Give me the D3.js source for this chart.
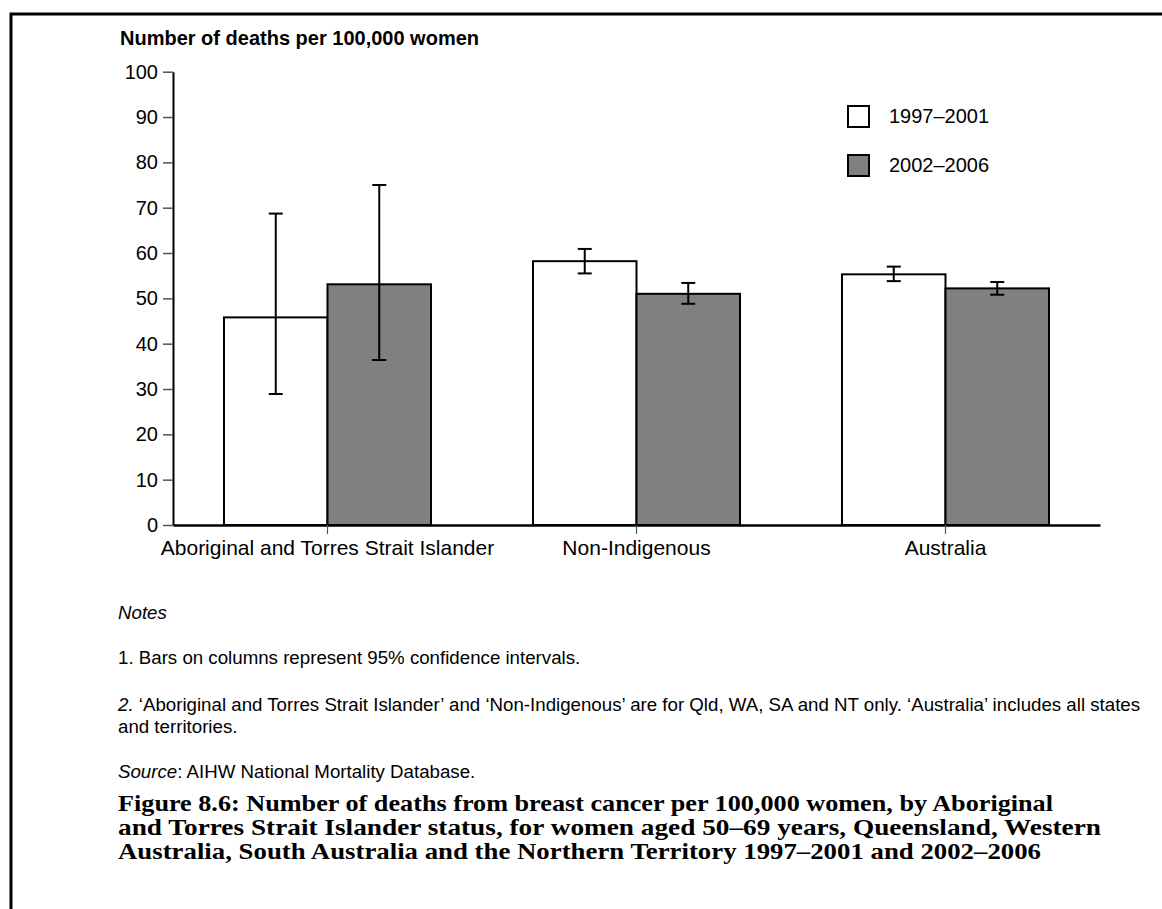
<!DOCTYPE html>
<html><head><meta charset="utf-8">
<script src="https://cdn.jsdelivr.net/npm/d3@7"></script>
<style>body{margin:0;background:#fff}svg{display:block}</style>
</head><body><svg id="c" width="1162" height="909"></svg>
<script>
const categories = ["Aboriginal and Torres Strait Islander", "Non-Indigenous", "Australia"];
const periods = ["1997–2001", "2002–2006"];
const values1997 = [45.8, 58.2, 55.3];
const values2002 = [53.1, 51.0, 52.2];
const lower1997 = [28.9, 55.5, 53.8];
const upper1997 = [68.7, 60.9, 57.0];
const lower2002 = [36.4, 48.8, 50.8];
const upper2002 = [75.0, 53.4, 53.6];
const yTicks = [0, 10, 20, 30, 40, 50, 60, 70, 80, 90, 100];
const yTitle = "Number of deaths per 100,000 women";
const noteLines = [
  "1. Bars on columns represent 95% confidence intervals.",
  "‘Aboriginal and Torres Strait Islander’ and ‘Non-Indigenous’ are for Qld, WA, SA and NT only. ‘Australia’ includes all states",
  "and territories."
];
const captionLines = [
  "Figure 8.6: Number of deaths from breast cancer per 100,000 women, by Aboriginal",
  "and Torres Strait Islander status, for women aged 50–69 years, Queensland, Western",
  "Australia, South Australia and the Northern Territory 1997–2001 and 2002–2006"
];

const fills = ["#ffffff", "#808080"];
const series = [
  {period: periods[0], values: values1997, lo: lower1997, hi: upper1997, fill: fills[0]},
  {period: periods[1], values: values2002, lo: lower2002, hi: upper2002, fill: fills[1]}
];

const svg = d3.select("#c");
const SANS = "'Liberation Sans', Arial, sans-serif";

// border
svg.append("path").attr("d", "M11,909V14H1162").attr("fill", "none")
  .attr("stroke", "#000").attr("stroke-width", 3);

const y = d3.scaleLinear().domain([0, 100]).range([525, 71.7]);
const x0 = d3.scaleBand().domain(categories).range([173, 1100]).paddingInner(0.33).paddingOuter(0.165);
const x1 = d3.scaleBand().domain(periods).range([0, x0.bandwidth()]).padding(0);

// bars
const groups = svg.append("g").selectAll("g").data(categories).join("g")
  .attr("transform", d => `translate(${x0(d)},0)`);
groups.each(function(cat, i) {
  const g = d3.select(this);
  series.forEach(s => {
    g.append("rect")
      .attr("x", x1(s.period)).attr("width", x1.bandwidth())
      .attr("y", y(s.values[i])).attr("height", y(0) - y(s.values[i]))
      .attr("fill", s.fill).attr("stroke", "#000").attr("stroke-width", 2);
  });
});

// error bars
groups.each(function(cat, i) {
  const g = d3.select(this);
  series.forEach(s => {
    const cx = x1(s.period) + x1.bandwidth() / 2;
    const eg = g.append("g").attr("stroke", "#000").attr("stroke-width", 2);
    eg.append("line").attr("x1", cx).attr("x2", cx).attr("y1", y(s.lo[i])).attr("y2", y(s.hi[i]));
    eg.append("line").attr("x1", cx - 7).attr("x2", cx + 7).attr("y1", y(s.lo[i])).attr("y2", y(s.lo[i]));
    eg.append("line").attr("x1", cx - 7).attr("x2", cx + 7).attr("y1", y(s.hi[i])).attr("y2", y(s.hi[i]));
  });
});

// y axis
const ya = svg.append("g").attr("transform", "translate(173,0)")
  .call(d3.axisLeft(y).tickValues(yTicks).tickSize(10).tickSizeOuter(0).tickPadding(5));
ya.select(".domain").attr("stroke", "#000").attr("stroke-width", 2);
ya.selectAll(".tick line").attr("stroke", "#555").attr("stroke-width", 1.5);
ya.selectAll(".tick text").attr("font-family", SANS).attr("font-size", 20).attr("fill", "#000");

// x axis
const xa = svg.append("g").attr("transform", "translate(0,525)")
  .call(d3.axisBottom(x0).tickSize(9).tickSizeOuter(0).tickPadding(6));
xa.select(".domain").attr("stroke", "#000").attr("stroke-width", 2.5);
xa.selectAll(".tick line").attr("stroke", "#555").attr("stroke-width", 1.2);
xa.selectAll(".tick text").attr("font-family", SANS).attr("font-size", 21).attr("fill", "#000");

// y title
svg.append("text").attr("x", 120).attr("y", 45).attr("font-family", SANS)
  .attr("font-size", 20).attr("font-weight", "bold").text(yTitle);

// legend
const leg = svg.append("g");
series.forEach((s, i) => {
  const yy = 106 + i * 49;
  leg.append("rect").attr("x", 848).attr("y", yy).attr("width", 21).attr("height", 21)
    .attr("fill", s.fill).attr("stroke", "#000").attr("stroke-width", 2);
  leg.append("text").attr("x", 889).attr("y", yy + 17).attr("font-family", SANS)
    .attr("font-size", 20).text(s.period);
});

// notes
const NF = 18.7;
svg.append("text").attr("x", 118).attr("y", 619).attr("font-family", SANS)
  .attr("font-size", NF).attr("font-style", "italic").text("Notes");
svg.append("text").attr("x", 118).attr("y", 664).attr("font-family", SANS)
  .attr("font-size", NF).text(noteLines[0]);
const n2 = svg.append("text").attr("x", 118).attr("y", 711).attr("font-family", SANS).attr("font-size", NF);
n2.append("tspan").attr("font-style", "italic").text("2. ");
n2.append("tspan").text(noteLines[1]);
svg.append("text").attr("x", 118).attr("y", 733).attr("font-family", SANS)
  .attr("font-size", NF).text(noteLines[2]);
const src = svg.append("text").attr("x", 118).attr("y", 778).attr("font-family", SANS).attr("font-size", NF);
src.append("tspan").attr("font-style", "italic").text("Source");
src.append("tspan").text(": AIHW National Mortality Database.");

// caption
const capW = [935, 983, 923];
captionLines.forEach((t, i) => {
  svg.append("text").attr("x", 118).attr("y", 811 + i * 24)
    .attr("font-family", "'Liberation Serif', 'DejaVu Serif', serif")
    .attr("font-size", 22.5).attr("font-weight", "bold")
    .attr("textLength", capW[i]).attr("lengthAdjust", "spacingAndGlyphs")
    .text(t);
});
</script></body></html>
